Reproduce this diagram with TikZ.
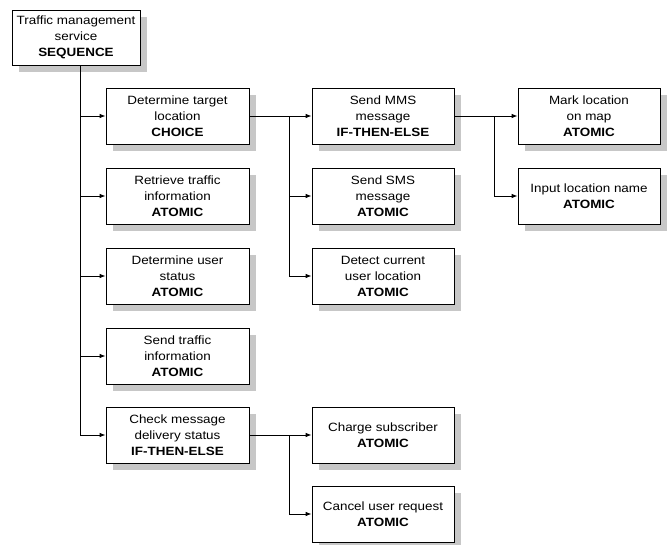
\documentclass[tikz,border=0pt]{standalone}
\usepackage{fontspec}
\setmainfont[FakeStretch=1.12]{Liberation Sans}
\usetikzlibrary{arrows.meta,shadows}
\begin{document}
\begin{tikzpicture}[x=1pt,y=-1pt,
  box/.style={draw=black, line width=0.8pt, fill=white, minimum width=143pt, minimum height=56pt,
    align=center, inner sep=1pt, font=\fontsize{12}{16}\selectfont,
    drop shadow={shadow xshift=7pt, shadow yshift=-7pt, fill=black!22, opacity=1}},
  conn/.style={line width=0.8pt, draw=black},
  arr/.style={conn, -{Latex[length=6pt,width=4.5pt]}}]
\useasboundingbox (0,0) rectangle (670,545);
\node[box, minimum width=128pt, minimum height=55pt] (top) at (76,37.5) {Traffic management\\service\\\textbf{SEQUENCE}};
\node[box] (a1) at (177.5,116) {Determine target\\location\\\textbf{CHOICE}};
\node[box] (a2) at (177.5,196) {Retrieve traffic\\information\\\textbf{ATOMIC}};
\node[box] (a3) at (177.5,276) {Determine user\\status\\\textbf{ATOMIC}};
\node[box] (a4) at (177.5,356) {Send traffic\\information\\\textbf{ATOMIC}};
\node[box] (a5) at (177.5,435) {Check message\\delivery status\\\textbf{IF-THEN-ELSE}};
\node[box, minimum width=142pt] (b1) at (383,116) {Send MMS\\message\\\textbf{IF-THEN-ELSE}};
\node[box, minimum width=142pt] (b2) at (383,196) {Send SMS\\message\\\textbf{ATOMIC}};
\node[box, minimum width=142pt] (b3) at (383,276) {Detect current\\user location\\\textbf{ATOMIC}};
\node[box, minimum width=142pt] (b4) at (383,435) {Charge subscriber\\\textbf{ATOMIC}};
\node[box, minimum width=142pt] (b5) at (383,514) {Cancel user request\\\textbf{ATOMIC}};
\node[box, minimum width=142pt] (c1) at (589,116) {Mark location\\on map\\\textbf{ATOMIC}};
\node[box, minimum width=142pt] (c2) at (589,196) {Input location name\\\textbf{ATOMIC}};
% trunk
\coordinate (t0) at (80,435);
\draw[conn] (top.south -| t0) -- (t0);
\foreach \n in {a1,a2,a3,a4,a5} \draw[arr] (\n.west -| t0) -- (\n.west);
% a1 -> b
\coordinate (t1) at (289,276);
\draw[conn] (a1.east) -- (a1.east -| t1) -- (t1);
\foreach \n in {b1,b2,b3} \draw[arr] (\n.west -| t1) -- (\n.west);
% b1 -> c
\coordinate (t2) at (494,196);
\draw[conn] (b1.east) -- (b1.east -| t2) -- (t2);
\foreach \n in {c1,c2} \draw[arr] (\n.west -| t2) -- (\n.west);
% a5 -> b4,b5
\coordinate (t3) at (289,514);
\draw[conn] (a5.east) -- (a5.east -| t3) -- (t3);
\foreach \n in {b4,b5} \draw[arr] (\n.west -| t3) -- (\n.west);
\end{tikzpicture}
\end{document}
